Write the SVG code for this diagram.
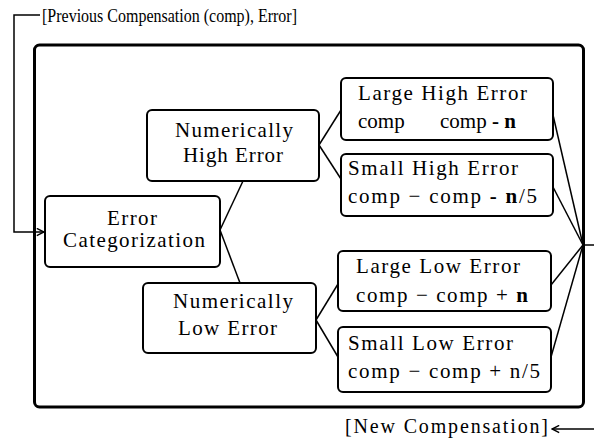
<svg xmlns="http://www.w3.org/2000/svg" width="594" height="444" viewBox="0 0 594 444">
  <defs>
    <style>
      .frame { fill: none; stroke: #000; stroke-width: 3; }
      .box { fill: #fff; stroke: #000; stroke-width: 2; }
      .wire { fill: none; stroke: #000; stroke-width: 1.5; }
    </style>
    <marker id="arrow" viewBox="0 0 10 10" refX="9" refY="5" markerWidth="9" markerHeight="9" markerUnits="userSpaceOnUse" orient="auto">
      <path d="M1,1 L9,5 L1,9" fill="none" stroke="#000" stroke-width="1.6"/>
    </marker>
  </defs>

  <rect width="594" height="444" fill="#fff"/>

  <!-- enclosing frame -->
  <rect class="frame" x="34.5" y="45" width="549" height="362" rx="5"/>

  <g id="connectors">
    <!-- incoming feedback path -->
    <polyline class="wire" points="40,15 14,15 14,232 44,232" marker-end="url(#arrow)"/>
    <!-- categorization split -->
    <line class="wire" x1="220" y1="230" x2="243" y2="181"/>
    <line class="wire" x1="220" y1="230" x2="240" y2="283"/>
    <!-- high error split -->
    <line class="wire" x1="319" y1="145" x2="341" y2="110"/>
    <line class="wire" x1="319" y1="145" x2="341" y2="179"/>
    <!-- low error split -->
    <line class="wire" x1="316" y1="320" x2="338" y2="284"/>
    <line class="wire" x1="316" y1="320" x2="338" y2="357"/>
    <!-- merge to output -->
    <line class="wire" x1="553" y1="115" x2="583" y2="245"/>
    <line class="wire" x1="553" y1="187" x2="583" y2="245"/>
    <line class="wire" x1="551" y1="285" x2="583" y2="245"/>
    <line class="wire" x1="551" y1="357" x2="583" y2="245"/>
    <line class="wire" x1="583" y1="245" x2="594" y2="245"/>
    <!-- outgoing result -->
    <line class="wire" x1="594" y1="429" x2="552" y2="429" marker-end="url(#arrow)"/>
  </g>

  <text x="42" y="22" font-family="Liberation Serif, serif" font-size="18" textLength="255" lengthAdjust="spacingAndGlyphs">[Previous Compensation (comp), Error]</text>
  <text x="345" y="433" font-family="Liberation Serif, serif" font-size="20" textLength="203">[New Compensation]</text>

  <g id="error-categorization" font-family="Liberation Serif, serif" font-size="21">
    <rect class="box" x="45" y="196" width="175" height="71" rx="5"/>
    <text x="107" y="225" textLength="50">Error</text>
    <text x="63" y="247" textLength="142">Categorization</text>
  </g>

  <g id="numerically-high" font-family="Liberation Serif, serif" font-size="21">
    <rect class="box" x="147" y="110" width="172" height="71" rx="5"/>
    <text x="175" y="137" textLength="118">Numerically</text>
    <text x="183" y="162" textLength="100">High Error</text>
  </g>

  <g id="numerically-low" font-family="Liberation Serif, serif" font-size="21">
    <rect class="box" x="143" y="283" width="173" height="70" rx="5"/>
    <text x="173" y="308" textLength="120">Numerically</text>
    <text x="178" y="335" textLength="99">Low Error</text>
  </g>

  <g id="large-high" font-family="Liberation Serif, serif" font-size="21">
    <rect class="box" x="341" y="78" width="212" height="62" rx="5"/>
    <text x="358" y="100" textLength="169">Large High Error</text>
    <text x="358" y="128">comp</text>
    <text x="440" y="128">comp <tspan font-weight="bold">- n</tspan></text>
  </g>

  <g id="small-high" font-family="Liberation Serif, serif" font-size="21">
    <rect class="box" x="341" y="154" width="212" height="62" rx="5"/>
    <text x="348" y="175" textLength="170">Small High Error</text>
    <text x="348" y="203" textLength="189">comp − comp <tspan font-weight="bold">- n</tspan>/5</text>
  </g>

  <g id="large-low" font-family="Liberation Serif, serif" font-size="21">
    <rect class="box" x="338" y="251" width="213" height="60" rx="5"/>
    <text x="356" y="273" textLength="164">Large Low Error</text>
    <text x="356" y="302" textLength="172">comp − comp + <tspan font-weight="bold">n</tspan></text>
  </g>

  <g id="small-low" font-family="Liberation Serif, serif" font-size="21">
    <rect class="box" x="338" y="327" width="213" height="65" rx="5"/>
    <text x="348" y="350" textLength="165">Small Low Error</text>
    <text x="348" y="378" textLength="192">comp − comp + n/5</text>
  </g>
</svg>
